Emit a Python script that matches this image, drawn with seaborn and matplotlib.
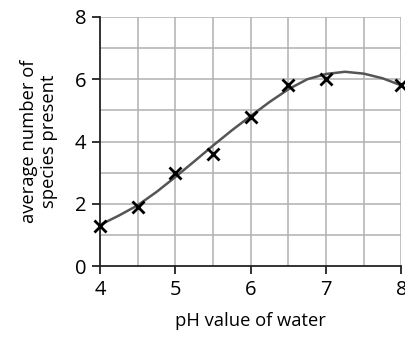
import matplotlib
matplotlib.use("Agg")
import matplotlib.pyplot as plt
import seaborn as sns
import pandas as pd

# measured points
ph_points = [4.0, 4.5, 5.0, 5.5, 6.0, 6.5, 7.0, 8.0]
species_points = [1.3, 1.9, 3.0, 3.6, 4.8, 5.8, 6.0, 5.8]

# smooth curve
curve_ph = [4.0, 4.25, 4.5, 4.75, 5.0, 5.25, 5.5, 5.75, 6.0, 6.25, 6.5, 6.75,
            7.0, 7.25, 7.5, 7.75, 8.0]
curve_species = [1.32, 1.62, 1.95, 2.38, 2.86, 3.36, 3.87, 4.36, 4.82, 5.27,
                 5.68, 6.00, 6.17, 6.24, 6.18, 6.03, 5.80]

x_ticks = [4, 5, 6, 7, 8]
y_ticks = [0, 2, 4, 6, 8]

sns.set_style("white")
plt.rcParams['font.family'] = ['Open Sans', 'DejaVu Sans']
plt.rcParams['text.color'] = 'black'
plt.rcParams['axes.labelcolor'] = 'black'
plt.rcParams['xtick.color'] = 'black'
plt.rcParams['ytick.color'] = 'black'

fig = plt.figure(figsize=(4.06, 3.38), dpi=100)
ax = fig.add_axes([100/406, 72/338, 301.5/406, 249/338])

# grid
for gx in [4.5, 5, 5.5, 6, 6.5, 7, 7.5, 8]:
    ax.axvline(gx, color="#b0b0b0", lw=1.1, zorder=0)
for gy in [1, 2, 3, 4, 5, 6, 7, 8]:
    ax.axhline(gy, color="#b0b0b0", lw=1.1, zorder=0)

curve = pd.DataFrame({"ph": curve_ph, "species": curve_species})
pts = pd.DataFrame({"ph": ph_points, "species": species_points})

sns.lineplot(data=curve, x="ph", y="species", ax=ax, color="#555555", lw=1.8,
             zorder=2, clip_on=False)
sns.scatterplot(data=pts, x="ph", y="species", ax=ax, marker="x", color="black",
                s=75, linewidth=2.0, zorder=3, clip_on=False)

ax.set_xlim(4, 8)
ax.set_ylim(0, 8)
ax.set_xticks(x_ticks)
ax.set_yticks(y_ticks)
ax.set_xticklabels([str(v) for v in x_ticks])
ax.set_yticklabels([str(v) for v in y_ticks])

for s in ["top", "right"]:
    ax.spines[s].set_visible(False)
for s in ["left", "bottom"]:
    ax.spines[s].set_color("#222222")
    ax.spines[s].set_linewidth(1.3)

ax.tick_params(axis="both", direction="out", length=6, width=1.3, color="#222222",
               labelcolor="black", labelsize=14.5, bottom=True, left=True)
ax.tick_params(axis="y", pad=4)
ax.tick_params(axis="x", pad=4)

ax.set_xlabel("pH value of water", fontsize=13.2, labelpad=9, color="black")
ax.set_ylabel("average number of\nspecies present", fontsize=13.2, labelpad=12,
              linespacing=1.15, color="black")

fig.savefig("out.png", dpi=100)
